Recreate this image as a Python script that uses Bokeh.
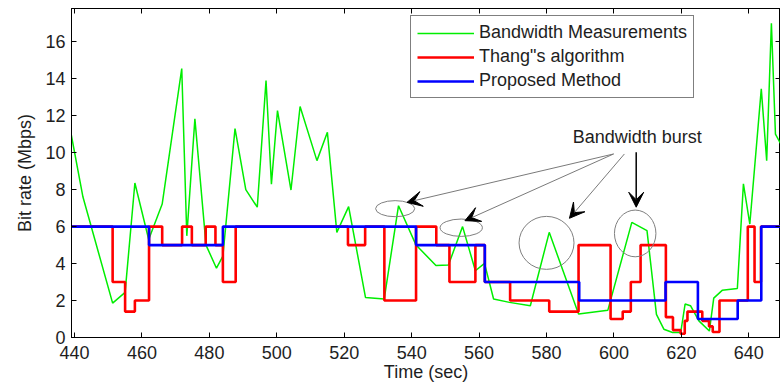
from bokeh.plotting import figure
from bokeh.models import (LinearAxis, Range1d, Legend, LegendItem, Arrow, VeeHead,
                          FixedTicker, Label)
from bokeh.embed import file_html
from bokeh.resources import INLINE

# ---------------- data ----------------
bw_time = [439.0, 442.5, 451.3, 455.0, 457.9, 462.0, 466.0, 471.8, 473.3, 475.7,
           479.0, 482.1, 484.0, 487.6, 490.8, 494.2, 496.8, 498.4, 500.2, 504.2,
           506.9, 511.9, 515.0, 517.8, 521.3, 526.3, 531.85, 536.1, 541.3, 547.2,
           550.9, 555.1, 558.9, 561.6, 564.3, 569.0, 575.2, 580.8, 589.5, 598.2,
           605.3, 609.8, 612.6, 614.8, 617.4, 619.8, 621.1, 622.7, 625.2, 628.3,
           629.6, 632.1, 636.6, 638.4, 640.3, 643.7, 645.3, 646.7, 647.9, 649.4]
bw_rate = [11.0, 7.6, 1.86, 2.44, 8.36, 5.3, 7.22, 14.55, 5.5, 11.83,
           5.0, 3.75, 4.4, 11.3, 8.0, 7.05, 13.9, 8.3, 12.28, 7.98,
           12.5, 9.57, 11.1, 5.69, 7.08, 2.17, 2.08, 7.13, 5.0, 3.9,
           3.92, 6.0, 3.61, 4.01, 2.08, 1.9, 1.72, 5.69, 1.27, 1.48,
           6.23, 5.78, 1.25, 0.45, 0.27, 0.27, 1.81, 1.72, 0.9, 0.35,
           2.13, 2.55, 2.65, 8.31, 6.14, 13.45, 9.57, 17.0, 11.0, 10.5]

thang_time = [439.0, 451.3, 455.0, 457.9, 462.1, 466.0, 471.9, 474.8, 478.9, 481.8,
              484.0, 487.8, 521.1, 526.2, 531.9, 541.3, 547.3, 551.2, 558.9, 561.7,
              569.2, 580.8, 589.5, 599.0, 602.6, 605.0, 607.9, 615.4, 617.5, 619.8,
              621.0, 621.8, 626.2, 628.2, 629.3, 631.3, 639.7, 641.7, 643.6, 649.4]
thang_rate = [6, 3, 1.4, 2, 6, 5, 6, 5, 6, 5,
              3, 6, 5, 6, 2, 6, 5, 3, 5, 3,
              2, 1.4, 5, 1.0, 1.4, 3, 5, 1.1, 0.4, 0.2,
              0.9, 1.4, 0.9, 0.6, 0.3, 2, 6, 3, 6, 6]

prop_time = [439.0, 462.1, 484.0, 541.3, 561.7, 589.7, 615.3, 624.9, 636.7, 643.7, 649.4]
prop_rate = [6, 5, 6, 5, 3, 2, 3, 1, 2, 6, 6]

x_ticks = [440, 460, 480, 500, 520, 540, 560, 580, 600, 620, 640]
y_ticks = [0, 2, 4, 6, 8, 10, 12, 14, 16]

series_labels = ["Bandwidth Measurements", "Thang\"s algorithm", "Proposed Method"]

# annotation: circled bursts and arrows
burst_x = [535.1, 554.7, 580.0, 606.3]
burst_y = [6.97, 5.94, 5.12, 5.63]
burst_w = [11.6, 12.55, 16.3, 12.3]
burst_h = [0.87, 0.94, 2.87, 2.53]
arrow_x0 = [599.9, 599.9, 603.1, 606.6]
arrow_y0 = [9.93, 9.93, 9.93, 10.02]
arrow_x1 = [538.6, 555.8, 586.8, 606.6]
arrow_y1 = [7.31, 6.32, 6.45, 7.05]
arrow_col = ["#7a7a7a", "#7a7a7a", "#7a7a7a", "#000000"]
arrow_w = [1, 1, 1, 1.5]

FONT = "Liberation Sans"
TXT = "#1e1e1e"

p = figure(width=780, height=384, x_range=Range1d(439.1, 649.4), y_range=Range1d(0, 17.8),
           output_backend="svg", toolbar_location=None,
           min_border_left=71, min_border_right=0, min_border_top=8, min_border_bottom=47,
           x_axis_label="Time (sec)", y_axis_label="Bit rate (Mbps)")
p.xgrid.visible = False
p.ygrid.visible = False
p.outline_line_color = "black"
p.background_fill_color = "white"
p.border_fill_color = "white"

g = p.line(bw_time, bw_rate, line_color="#00ee00", line_width=1.5)
r = p.step(thang_time, thang_rate, mode="after", line_color="#ff0000", line_width=2.6)
b = p.step(prop_time, prop_rate, mode="after", line_color="#0000ff", line_width=2.6)


def style_axis(ax, ticks, labels=True):
    ax.ticker = FixedTicker(ticks=ticks)
    ax.major_tick_in = 5
    ax.major_tick_out = 0
    ax.minor_tick_line_color = None
    ax.axis_line_color = "black"
    ax.major_tick_line_color = "black"
    ax.axis_line_width = 1
    if labels:
        ax.major_label_text_font = FONT
        ax.major_label_text_font_size = "18px"
        ax.major_label_text_color = TXT
        ax.axis_label_text_font = FONT
        ax.axis_label_text_font_size = "18px"
        ax.axis_label_text_font_style = "normal"
        ax.axis_label_text_color = TXT
    else:
        ax.major_label_text_font_size = "0px"
        ax.major_label_text_alpha = 0
        ax.major_label_standoff = 0


style_axis(p.xaxis[0], x_ticks)
p.xaxis[0].major_label_standoff = 8
p.xaxis[0].axis_label_standoff = 0
style_axis(p.yaxis[0], y_ticks)
p.yaxis[0].major_label_standoff = 6
p.yaxis[0].axis_label_standoff = 7

top_ax = LinearAxis()
style_axis(top_ax, x_ticks, labels=False)
p.add_layout(top_ax, "above")
right_ax = LinearAxis()
style_axis(right_ax, y_ticks, labels=False)
p.add_layout(right_ax, "right")

legend = Legend(items=[LegendItem(label=series_labels[0], renderers=[g]),
                       LegendItem(label=series_labels[1], renderers=[r]),
                       LegendItem(label=series_labels[2], renderers=[b])],
                location=(339, 239), orientation="vertical", padding=6, spacing=3,
                glyph_width=57, glyph_height=20, label_height=20, label_standoff=5,
                label_text_font=FONT, label_text_font_size="18px", label_text_color=TXT,
                border_line_color="black", border_line_width=1.3,
                background_fill_color="white", background_fill_alpha=1, margin=0)
p.add_layout(legend)

p.ellipse(x=burst_x, y=burst_y, width=burst_w, height=burst_h,
          fill_color=None, line_color="#7f7f7f", line_width=1)

for i in range(len(arrow_x0)):
    p.add_layout(Arrow(x_start=arrow_x0[i], y_start=arrow_y0[i], x_end=arrow_x1[i], y_end=arrow_y1[i],
                       line_color=arrow_col[i], line_width=arrow_w[i],
                       end=VeeHead(size=15, fill_color="black", line_color="black", line_width=1)))

p.add_layout(Label(x=606.9, y=10.83, text="Bandwidth burst", text_font=FONT,
                   text_font_size="18px", text_color=TXT, text_align="center",
                   text_baseline="middle"))

open("out.html", "w").write(file_html(p, INLINE))
